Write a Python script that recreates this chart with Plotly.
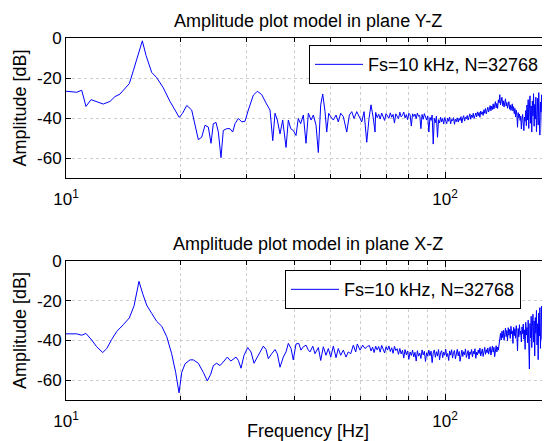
import numpy as np
import plotly.graph_objects as go

FS = 10000.0
N = 32768
DF = FS / N  # frequency resolution

LEGEND_TEXT = "Fs=10 kHz, N=32768"
TITLE_TOP = "Amplitude plot model in plane Y-Z"
TITLE_BOT = "Amplitude plot model in plane X-Z"

# ---------- Y-Z plane: low-frequency part (explicit) ----------
yz_freq = [10.0, 10.67, 11.0, 11.29, 11.64, 12.05, 12.54, 13.06, 13.46, 13.88, 14.31, 14.69,
           15.05, 15.52, 15.9, 16.26, 16.83, 17.35, 18.06, 18.81, 19.4, 19.9, 20.3, 20.83,
           21.46, 21.89, 22.34, 22.8, 23.27, 23.74, 24.13, 24.47, 24.88, 25.23, 25.64, 26.0,
           26.55, 27.08, 27.53, 27.92, 28.49, 29.08, 29.67, 30.27, 31.2, 31.97, 32.84, 33.71,
           34.54, 35.11, 35.6, 36.1, 36.7, 37.3, 38.06, 38.6, 39.16, 39.78, 40.44, 41.0,
           41.6, 42.28, 42.98, 43.59, 44.31, 44.93, 45.68, 46.31, 46.99, 47.57, 48.24, 48.74,
           49.33, 49.94, 50.73, 51.57, 52.29, 53.06, 53.91, 55.04, 55.92, 56.74, 57.53, 58.49,
           59.41, 60.29, 61.14, 62.15, 63.02, 63.79, 64.69, 65.36]
yz_amp = [-26.6, -27.1, -26.1, -34.2, -30.8, -32.0, -33.0, -31.7, -29.3, -28.0, -24.9, -22.8,
          -16.4, -7.8, -1.4, -8.7, -17.2, -19.8, -24.9, -31.7, -35.9, -39.7, -37.6, -33.7,
          -36.0, -42.7, -50.8, -49.6, -43.6, -44.5, -52.6, -42.8, -42.2, -47.0, -59.8, -46.2,
          -45.3, -45.3, -47.0, -42.8, -40.2, -41.9, -41.6, -36.0, -28.6, -26.6, -28.3, -32.5,
          -36.0, -51.3, -37.6, -41.0, -47.9, -41.0, -54.7, -41.0, -45.3, -46.2, -48.7, -40.2,
          -42.8, -38.5, -52.6, -37.6, -41.0, -38.5, -43.6, -57.2, -33.4, -28.0, -36.8, -47.0,
          -37.6, -39.3, -41.0, -38.5, -41.9, -37.6, -39.3, -47.0, -38.5, -36.8, -40.2, -36.8,
          -39.3, -41.9, -36.8, -52.1, -40.2, -33.4, -40.2, -47.0]

# ---------- Y-Z plane: dense part on FFT bins (every 2nd bin from bin 215) ----------
yz_dense_start_bin = 215
yz_dense_amp = [
    -37.2, -39.8, -38.1, -40.5, -37.5, -39.0, -41.2, -37.8, -38.9, -40.1,
    -37.4, -39.6, -38.2, -42.5, -37.9, -38.8, -40.3, -37.1, -39.4, -38.6,
    -37.0, -39.9, -38.3, -40.8, -37.6, -38.4, -44.0, -37.9, -39.2, -38.0,
    -40.3, -37.5, -39.1, -38.7, -45.3, -38.2, -40.6, -37.8, -39.5, -41.0,
    -38.9, -47.0, -39.7, -41.2, -38.5, -53.0, -40.1, -42.3, -39.0, -49.6,
    -40.8, -42.5, -39.6, -41.9, -40.2, -43.0, -39.8, -41.5, -42.8, -40.0,
    -41.6, -39.5, -42.9, -40.7, -41.3, -39.8, -43.1, -40.5, -41.8, -39.9,
    -42.0, -40.1, -41.2, -39.3, -42.4, -40.0, -38.8, -41.5, -39.6, -40.4,
    -38.7, -41.0, -39.2, -37.9, -40.6, -38.5, -39.7, -37.6, -40.2, -38.3,
    -37.5, -39.4, -36.9, -38.8, -37.2, -39.6, -36.5, -38.1, -36.9, -38.7,
    -35.8, -37.6, -35.2, -37.9, -35.9, -34.6, -37.0, -35.3, -33.8, -36.4,
    -34.1, -35.7, -32.9, -35.5, -33.6, -31.8, -34.9, -32.7, -35.2, -30.9,
    -32.5, -28.3, -33.4, -31.0, -29.6, -33.8, -31.4, -34.5, -32.1, -30.4,
    -34.0, -32.2, -35.1, -33.0, -31.8, -35.6, -33.4, -36.2, -34.0, -32.9,
    -36.5, -34.3, -37.8, -35.2, -39.5, -36.1, -38.4, -44.6, -37.3, -39.8,
    -38.0, -41.2, -39.1, -45.5, -40.5, -38.2, -42.9, -46.3, -39.5, -41.6,
    -36.2, -43.8, -33.5, -41.0, -30.8, -45.2, -35.1, -28.9, -42.6, -34.0,
    -47.0, -31.5, -38.9, -27.8, -44.1, -33.2, -40.5, -29.6, -46.8, -35.8,
    -30.2, -43.5, -27.3, -39.7, -48.5, -32.0, -36.9, -28.4, -44.7, -52.0,
    -33.6, -29.0, -42.1, -26.5, -38.3, -46.0, -30.7, -35.5, -27.2, -43.9,
    -31.8, -25.0, -40.6, -29.4, -36.0]

# ---------- X-Z plane: low-frequency part (explicit) ----------
xz_freq = [10.0, 10.67, 11.0, 11.29, 11.69, 12.05, 12.5, 12.81, 13.2, 13.61, 14.16, 14.69,
           15.12, 15.58, 15.94, 16.33, 16.83, 17.35, 17.89, 18.44, 19.0, 19.47, 19.87, 20.2,
           20.61, 21.24, 21.67, 22.34, 23.03, 23.6, 24.09, 24.47, 24.98, 25.49, 26.11, 26.64,
           27.2, 27.63, 28.09, 28.49, 28.96, 29.49, 30.16, 30.77, 31.34, 31.97, 32.64, 33.16,
           33.71, 34.18, 34.9, 35.6, 36.1, 36.7, 37.44, 38.06, 38.6, 39.24, 39.78, 40.44,
           41.11, 41.69, 42.28, 42.98, 43.59, 44.04, 44.77, 45.39, 46.31, 46.99, 47.74, 48.53,
           49.22, 49.94, 50.73, 51.57, 52.29, 53.06, 53.91, 54.8, 55.57, 56.39, 57.29, 58.12,
           58.69, 59.66, 60.65, 61.5, 62.52]
xz_amp = [-36.7, -36.7, -37.4, -36.5, -39.8, -43.2, -46.1, -44.1, -39.5, -35.5, -32.1, -28.7,
          -22.6, -10.3, -16.6, -22.3, -26.4, -30.4, -32.9, -38.1, -46.7, -56.1, -66.4, -56.1,
          -51.8, -49.8, -49.8, -51.5, -56.1, -60.4, -57.0, -52.7, -51.5, -52.7, -50.4, -48.4,
          -50.4, -49.2, -48.4, -50.1, -54.0, -47.5, -43.6, -45.8, -51.5, -48.4, -45.3, -42.9,
          -44.6, -49.2, -46.7, -44.6, -46.7, -53.5, -48.4, -45.8, -41.5, -44.1, -49.8, -41.8,
          -41.5, -44.9, -43.2, -42.4, -44.9, -45.8, -42.9, -46.7, -43.6, -50.1, -43.2, -47.5,
          -44.1, -48.4, -42.9, -48.7, -44.1, -47.5, -44.9, -48.4, -45.8, -46.7, -42.4, -45.8,
          -41.8, -44.9, -42.4, -44.1, -42.9]

# ---------- X-Z plane: dense part on FFT bins (every 2nd bin from bin 207) ----------
xz_dense_start_bin = 207
xz_dense_amp = [
    -42.6, -45.3, -43.4, -46.1, -42.9, -44.8, -43.1, -45.9, -42.5, -44.4,
    -46.3, -43.2, -44.9, -42.8, -45.6, -43.7, -46.5, -43.0, -45.1, -44.2,
    -47.0, -44.1, -46.8, -45.0, -48.9, -44.6, -47.2, -45.3, -49.5, -45.8,
    -47.6, -44.9, -48.3, -46.0, -50.4, -45.2, -47.9, -46.4, -49.1, -44.8,
    -47.3, -45.5, -50.6, -46.2, -48.0, -44.9, -47.7, -45.4, -51.2, -46.3,
    -44.8, -48.5, -45.7, -47.9, -44.6, -49.8, -46.1, -45.2, -48.7, -45.9,
    -47.5, -44.4, -48.2, -46.6, -50.1, -45.3, -47.4, -44.7, -48.9, -46.0,
    -45.1, -49.3, -46.2, -44.5, -47.8, -45.6, -50.5, -46.3, -44.9, -48.1,
    -45.7, -47.2, -44.3, -48.6, -46.0, -45.1, -49.4, -45.8, -47.0, -44.6,
    -48.3, -45.5, -46.9, -44.2, -49.0, -45.9, -47.3, -44.8, -46.6, -43.9,
    -47.8, -45.0, -44.3, -48.1, -45.6, -43.5, -47.0, -44.7, -46.2, -43.8,
    -46.9, -44.1, -43.2, -47.4, -44.6, -42.8, -45.9, -43.5, -48.2, -44.0,
    -42.7, -45.8, -43.3, -44.9, -42.1, -39.2, -36.5, -39.8, -35.4, -38.6,
    -34.9, -39.9, -36.2, -33.8, -38.1, -35.0, -40.2, -33.6, -37.4, -34.5,
    -39.0, -32.9, -36.8, -35.2, -41.5, -33.4, -37.6, -34.1, -38.9, -32.6,
    -36.4, -45.3, -34.0, -38.2, -32.1, -37.0, -35.3, -40.8, -33.2, -36.6,
    -31.8, -39.4, -34.7, -44.5, -30.9, -37.3, -33.5, -41.2, -29.8, -46.0,
    -54.4, -31.5, -38.7, -27.9, -43.6, -33.0, -26.8, -40.9, -30.2, -47.8,
    -28.5, -36.4, -24.9, -42.3, -31.6, -49.7, -26.2, -37.8, -23.5, -44.0,
    -30.1, -22.7, -39.5, -27.4, -48.3, -24.0, -35.6, -21.8, -42.7, -29.0,
    -20.5, -37.9, -25.3, -46.5, -19.2, -33.0, -22.4, -40.1]

x_tick_vals = [10, 100]
x_tick_text = ["10<sup>1</sup>", "10<sup>2</sup>"]
x_minor_vals = [20, 30, 40, 50, 60, 70, 80, 90]
y_tick_vals = [-60, -40, -20, 0]
y_tick_text = ["-60", "-40", "-20", "0"]


def dense_freqs(start_bin, count):
    return (start_bin + 2 * np.arange(count)) * DF


f_top = np.concatenate([yz_freq, dense_freqs(yz_dense_start_bin, len(yz_dense_amp))])
a_top = np.concatenate([yz_amp, yz_dense_amp])
f_bot = np.concatenate([xz_freq, dense_freqs(xz_dense_start_bin, len(xz_dense_amp))])
a_bot = np.concatenate([xz_amp, xz_dense_amp])

FONT = "Liberation Sans, Arial, Helvetica, sans-serif"
TXT = 18
TICK = 17
GRID = "rgb(205,205,205)"

fig = go.Figure()
fig.add_trace(go.Scatter(x=f_top, y=a_top, mode="lines", name=LEGEND_TEXT,
                         line=dict(color="rgb(0,0,255)", width=1),
                         xaxis="x", yaxis="y", legend="legend"))
fig.add_trace(go.Scatter(x=f_bot, y=a_bot, mode="lines", name=LEGEND_TEXT,
                         line=dict(color="rgb(0,0,255)", width=1),
                         xaxis="x2", yaxis="y2", legend="legend2"))

# page has an 8px body margin: figure is sized so the page coordinates match
H_PLOT = 354  # plot region height (page y 38..392)
W_PLOT = 484  # plot region width (page x 66..550)
top_dom = [(392 - 175) / H_PLOT, 1.0]
bot_dom = [0.0, 136 / H_PLOT]

xcommon = dict(type="log", range=[1.0, np.log10(189.2)], tickvals=x_tick_vals,
               ticktext=x_tick_text, ticks="inside", ticklen=6, tickcolor="black",
               showline=True, linecolor="black", linewidth=1, mirror="ticks",
               showgrid=True, gridcolor=GRID, griddash="dot", gridwidth=1,
               minor=dict(tickvals=x_minor_vals, ticks="inside", ticklen=4,
                          tickcolor="black", showgrid=True, gridcolor=GRID,
                          griddash="dot", gridwidth=1),
               tickfont=dict(family=FONT, size=TICK, color="black"),
               ticklabelstandoff=6, zeroline=False)
ycommon = dict(range=[-70, 0], tickvals=y_tick_vals, ticktext=y_tick_text,
               ticks="inside", ticklen=5, tickcolor="black",
               showline=True, linecolor="black", linewidth=1, mirror=False,
               showgrid=True, gridcolor=GRID, griddash="dot", gridwidth=1,
               tickfont=dict(family=FONT, size=TICK, color="black"), zeroline=False,
               title=dict(text="Amplitude [dB]", font=dict(family=FONT, size=TXT, color="black"),
                          standoff=5))

fig.update_layout(
    width=542, height=433,
    margin=dict(l=58, r=0, t=30, b=41),
    paper_bgcolor="white", plot_bgcolor="white",
    font=dict(family=FONT, size=TXT, color="black"),
    xaxis=dict(**xcommon, domain=[0, 1], anchor="y"),
    yaxis=dict(**ycommon, domain=top_dom, anchor="x"),
    xaxis2=dict(**xcommon, domain=[0, 1], anchor="y2"),
    yaxis2=dict(**ycommon, domain=bot_dom, anchor="x2"),
    showlegend=True,
    legend=dict(x=(545 - 66) / W_PLOT, y=(392 - 45) / H_PLOT, xanchor="right", yanchor="top",
                bgcolor="white", bordercolor="black", borderwidth=1, itemwidth=48,
                font=dict(family=FONT, size=TXT, color="black")),
    legend2=dict(x=(521 - 66) / W_PLOT, y=(392 - 265) / H_PLOT, xanchor="right", yanchor="top",
                 bgcolor="white", bordercolor="black", borderwidth=1, itemwidth=48,
                 font=dict(family=FONT, size=TXT, color="black")),
    annotations=[
        dict(text=TITLE_TOP, xref="paper", yref="paper", x=0.5, y=top_dom[1],
             yshift=5, xanchor="center", yanchor="bottom", showarrow=False,
             font=dict(family=FONT, size=TXT, color="black")),
        dict(text=TITLE_BOT, xref="paper", yref="paper", x=0.5, y=bot_dom[1],
             yshift=5, xanchor="center", yanchor="bottom", showarrow=False,
             font=dict(family=FONT, size=TXT, color="black")),
        dict(text="Frequency [Hz]", xref="paper", yref="paper", x=0.5, y=0,
             yshift=-31, xanchor="center", yanchor="middle", showarrow=False,
             font=dict(family=FONT, size=TXT, color="black")),
    ],
)

fig.write_html("out.html")
